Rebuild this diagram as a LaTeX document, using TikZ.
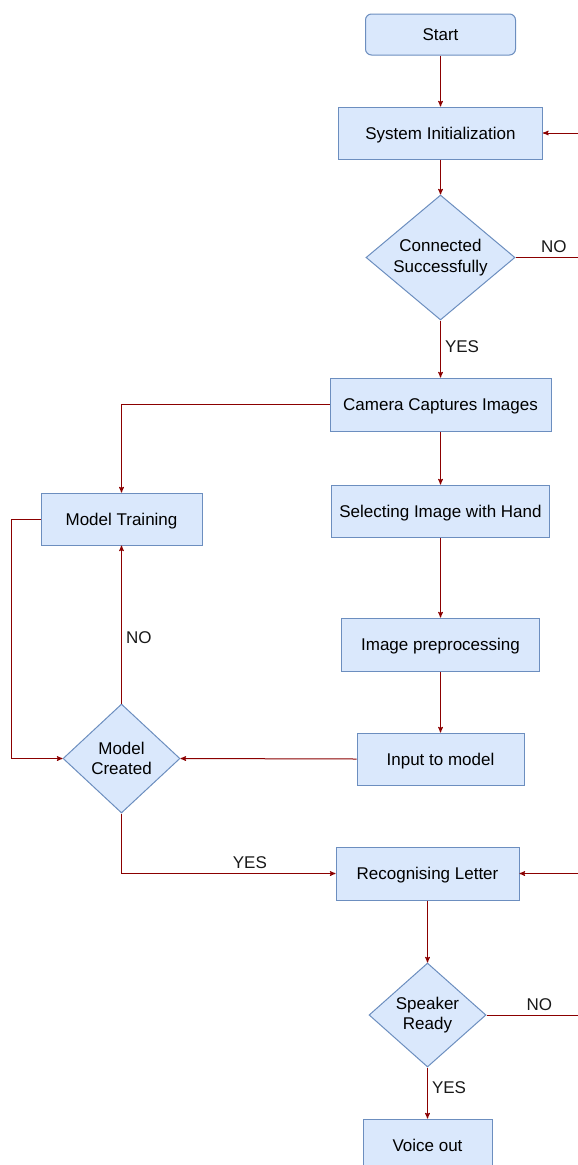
\documentclass[tikz,border=0pt]{standalone}
\usepackage{fontspec}
\setmainfont{Liberation Sans}
\usetikzlibrary{shapes.geometric,arrows}
\definecolor{boxfill}{HTML}{DAE8FC}
\definecolor{boxline}{HTML}{6C8EBF}
\definecolor{flow}{HTML}{8B0000}

\tikzset{
  proc/.style={rectangle,draw=boxline,fill=boxfill,line width=1pt,minimum height=52pt,align=center,inner sep=0pt,text depth=0pt},
  startbox/.style={proc,rounded corners=6pt},
  decision/.style={diamond,draw=boxline,fill=boxfill,line width=1pt,aspect=1.2,inner sep=0pt,align=center},
  link/.style={->,draw=flow,line width=1pt},
  lbl/.style={inner sep=4pt,text=black!90}
}

\begin{document}
\begin{tikzpicture}[x=1pt,y=-1pt,>=stealth',font=\fontsize{17}{20.4}\selectfont]
	\useasboundingbox (0,0) rectangle (578,1165);
	% main column
	\node[startbox,minimum width=150pt,minimum height=41pt] (start) at (440.5,34.5) {Start};
	\node[proc,minimum width=204pt] (init) at (440.5,133) {System Initialization};
	\node[decision,minimum width=149pt,minimum height=125pt] (conn) at (440.5,257.5) {Connected\\Successfully};
	\node[proc,minimum width=221pt,minimum height=53pt] (cam) at (440.5,404.5) {Camera Captures Images};
	\node[proc,minimum width=218pt] (sel) at (440.5,511) {Selecting Image with Hand};
	\node[proc,minimum width=198pt,minimum height=53pt] (pre) at (440.5,644.5) {Image preprocessing};
	\node[proc,minimum width=167pt] (inp) at (440.5,759) {Input to model};
	% model side
	\node[proc,minimum width=161pt] (train) at (121.5,519) {Model Training};
	\node[decision,minimum width=117pt,minimum height=109pt] (made) at (121.5,758.5) {Model\\Created};
	% output
	\node[proc,minimum width=183pt,minimum height=53pt] (rec) at (427.5,873.5) {Recognising Letter};
	\node[decision,minimum width=117pt,minimum height=104pt] (spk) at (427.5,1015) {Speaker\\Ready};
	\node[proc,minimum width=129pt] (voice) at (427.5,1145) {Voice out};
	% rails for the loops
	\coordinate (leftrail) at (11,0);
	\coordinate (rightrail) at (592,0);

	\draw[link] (start) -- (init);
	\draw[link] (init) -- (conn);
	\draw[link] (conn) -- node[lbl,right,pos=0.45] {YES} (cam);
	\draw[link] (conn.east) -- node[lbl,above] {NO} (conn.east -| rightrail) |- (init.east);
	\draw[link] (cam) -- (sel);
	\draw[link] (sel) -- (pre);
	\draw[link] (pre) -- (inp);
	\draw[link] (cam.west) -| (train.north);
	\draw[link] (train.west) -- (train.west -| leftrail) |- (made.west);
	\draw[link] (inp.west) -- (made.east);
	\draw[link] (made.north) -- node[lbl,right,pos=0.42] {NO} (train.south);
	\draw[link] (made.south) |- node[lbl,above,pos=0.8] {YES} (rec.west);
	\draw[link] (rec) -- (spk);
	\draw[link] (spk.east) -- node[lbl,above] {NO} (spk.east -| rightrail) |- (rec.east);
	\draw[link] (spk) -- node[lbl,right,pos=0.4] {YES} (voice);
\end{tikzpicture}
\end{document}
